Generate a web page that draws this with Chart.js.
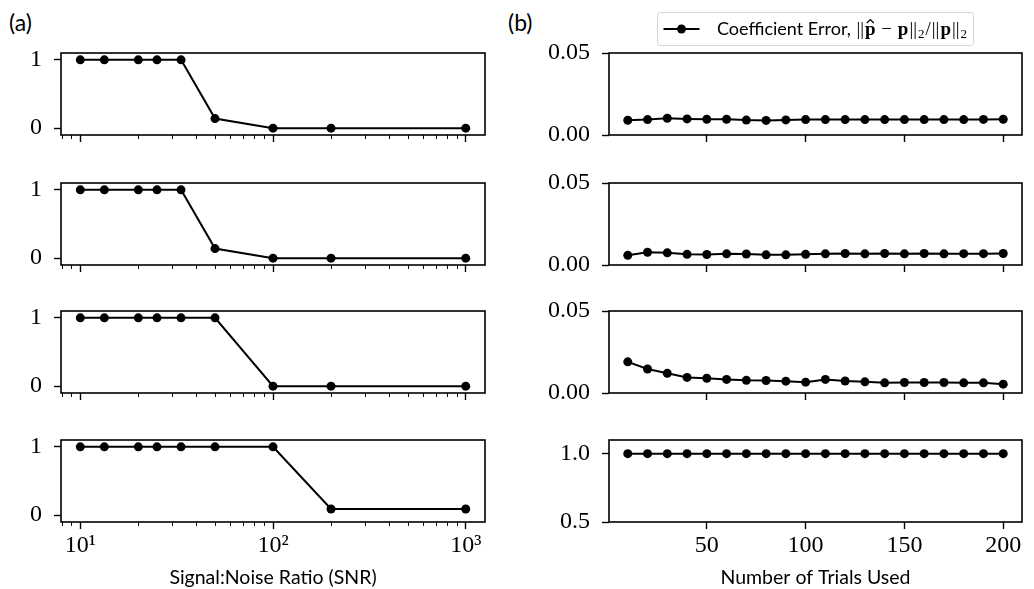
<!DOCTYPE html>
<html><head><meta charset="utf-8">
<script src="https://cdn.jsdelivr.net/npm/chart.js@4"></script>
<style>
html,body{margin:0;padding:0;background:#fff;width:1034px;height:589px;overflow:hidden;position:relative;}
canvas{position:absolute;}
.lbl{position:absolute;font-family:Lato,"Open Sans",sans-serif;font-size:23px;color:#000;line-height:24px;}
</style></head><body>
<div class="lbl" style="left:9px;top:10px">(a)</div>
<div class="lbl" style="left:508px;top:10px">(b)</div>
<canvas id="a1"></canvas><canvas id="a2"></canvas><canvas id="a3"></canvas><canvas id="a4"></canvas>
<canvas id="b1"></canvas><canvas id="b2"></canvas><canvas id="b3"></canvas><canvas id="b4"></canvas>
<script>
// ---------------- data ----------------
const snr = [10, 13.33, 20, 25, 33.33, 50, 100, 200, 1000];
const recovery1 = [1, 1, 1, 1, 1, 0.14, 0, 0, 0];
const recovery2 = [1, 1, 1, 1, 1, 0.14, 0, 0, 0];
const recovery3 = [1, 1, 1, 1, 1, 1, 0, 0, 0];
const recovery4 = [1, 1, 1, 1, 1, 1, 1, 0.09, 0.09];
const snrTicks = [10, 100, 1000];
const snrTickLabels = ['10¹', '10²', '10³'];
const recoveryTicks = [0, 1];
const recoveryTickLabels = ['0', '1'];

const trials = [10, 20, 30, 40, 50, 60, 70, 80, 90, 100, 110, 120, 130, 140, 150, 160, 170, 180, 190, 200];
const error1 = [0.0090, 0.0094, 0.0102, 0.0098, 0.0096, 0.0096, 0.0091, 0.0089, 0.0092, 0.0094, 0.0094, 0.0094, 0.0094, 0.0094, 0.0094, 0.0094, 0.0094, 0.0094, 0.0095, 0.0096];
const error2 = [0.0059, 0.0078, 0.0074, 0.0065, 0.0064, 0.0068, 0.0067, 0.0062, 0.0062, 0.0065, 0.0068, 0.0070, 0.0068, 0.0070, 0.0068, 0.0070, 0.0068, 0.0069, 0.0069, 0.0070];
const error3 = [0.0190, 0.0146, 0.0120, 0.0095, 0.0090, 0.0083, 0.0077, 0.0076, 0.0072, 0.0066, 0.0083, 0.0073, 0.0068, 0.0062, 0.0064, 0.0064, 0.0064, 0.0062, 0.0062, 0.0054];
const error4 = [1, 1, 1, 1, 1, 1, 1, 1, 1, 1, 1, 1, 1, 1, 1, 1, 1, 1, 1, 1];
const trialTicks = [50, 100, 150, 200];
const trialTickLabels = ['50', '100', '150', '200'];
const errorTicks = [0, 0.05];
const errorTickLabels = ['0.00', '0.05'];
const unitTicks = [0.5, 1.0];
const unitTickLabels = ['0.5', '1.0'];

const seriesLabel = 'Coefficient Error, ‖p̂ − p‖₂/‖p‖₂';
const legendPrefix = 'Coefficient Error, ';
const xTitleA = 'Signal:Noise Ratio (SNR)';
const xTitleB = 'Number of Trials Used';

// ---------------- plugins ----------------
const framePlugin = {
  id: 'frame',
  afterDraw(chart) {
    const ctx = chart.ctx, a = chart.chartArea;
    ctx.save();
    ctx.strokeStyle = '#000';
    ctx.lineWidth = 1.6;
    ctx.strokeRect(a.left, a.top, a.right - a.left, a.bottom - a.top);
    ctx.restore();
  }
};
const minorPlugin = {
  id: 'minorTicks',
  afterDraw(chart, args, opts) {
    if (!opts || !opts.values) return;
    const ctx = chart.ctx, a = chart.chartArea, sx = chart.scales.x;
    ctx.save();
    ctx.strokeStyle = '#000';
    ctx.lineWidth = 1;
    opts.values.forEach(v => {
      const px = Math.round(sx.getPixelForValue(v)) + 0.5;
      if (px < a.left || px > a.right) return;
      ctx.beginPath();
      ctx.moveTo(px, a.bottom);
      ctx.lineTo(px, a.bottom + 4);
      ctx.stroke();
    });
    ctx.restore();
  }
};
const legendPlugin = {
  id: 'mplLegend',
  afterDraw(chart, args, opts) {
    if (!opts || !opts.show) return;
    const ctx = chart.ctx, a = chart.chartArea;
    const sans = '18px Lato, "Open Sans", sans-serif';
    const serif = '19px "Liberation Serif", "DejaVu Serif", serif';
    const serifB = 'bold 19px "Liberation Serif", "DejaVu Serif", serif';
    const sub = '13px "Liberation Serif", "DejaVu Serif", serif';
    const parts = [
      [legendPrefix, sans, 0, false],
      ['||', serif, 0, false],
      ['p', serifB, 0, true],
      [' − ', serif, 0, false],
      ['p', serifB, 0, false],
      ['||', serif, 0, false],
      ['2', sub, 3, false],
      ['/', serif, 0, false],
      ['||', serif, 0, false],
      ['p', serifB, 0, false],
      ['||', serif, 0, false],
      ['2', sub, 3, false]
    ];
    ctx.save();
    let textW = 0;
    parts.forEach(p => { ctx.font = p[1]; p.push(ctx.measureText(p[0]).width + 1); textW += p[4]; });
    const handle = 36, gap = 17, padL = 6, padR = 6;
    const boxW = padL + handle + gap + textW + padR;
    const boxH = 33;
    const cx = (a.left + a.right) / 2;
    const x0 = Math.round(cx - boxW / 2) + 0.5, y0 = Math.round(a.top - 41) + 0.5;
    const r = 3;
    ctx.beginPath();
    ctx.moveTo(x0 + r, y0);
    ctx.arcTo(x0 + boxW, y0, x0 + boxW, y0 + boxH, r);
    ctx.arcTo(x0 + boxW, y0 + boxH, x0, y0 + boxH, r);
    ctx.arcTo(x0, y0 + boxH, x0, y0, r);
    ctx.arcTo(x0, y0, x0 + boxW, y0, r);
    ctx.closePath();
    ctx.fillStyle = 'rgba(255,255,255,0.8)';
    ctx.fill();
    ctx.strokeStyle = '#d4d4d4';
    ctx.lineWidth = 1;
    ctx.stroke();
    const ym = y0 + boxH / 2;
    const ds = chart.data.datasets[0];
    ctx.strokeStyle = ds.borderColor;
    ctx.lineWidth = ds.borderWidth;
    ctx.beginPath();
    ctx.moveTo(x0 + padL, ym);
    ctx.lineTo(x0 + padL + handle, ym);
    ctx.stroke();
    ctx.fillStyle = ds.pointBackgroundColor;
    ctx.beginPath();
    ctx.arc(x0 + padL + handle / 2, ym, ds.pointRadius, 0, Math.PI * 2);
    ctx.fill();
    let tx = x0 + padL + handle + gap;
    const base = ym + 6;
    ctx.fillStyle = '#000';
    ctx.textBaseline = 'alphabetic';
    parts.forEach(p => {
      ctx.font = p[1];
      ctx.fillText(p[0], tx + 0.5, base + p[2]);
      if (p[3]) {
        ctx.beginPath();
        ctx.lineWidth = 1.2;
        ctx.strokeStyle = '#000';
        const hx = tx + p[4] / 2;
        ctx.moveTo(hx - 3.5, base - 12);
        ctx.lineTo(hx, base - 15.5);
        ctx.lineTo(hx + 3.5, base - 12);
        ctx.stroke();
      }
      tx += p[4];
    });
    ctx.restore();
  }
};

// minor tick positions for the log axis (2..9 x 10^k)
const logMinor = [];
for (let e = 0; e <= 3; e++) for (let m = 2; m <= 9; m++) logMinor.push(m * Math.pow(10, e));

const tickFont = { family: '"Liberation Serif", "DejaVu Serif", serif', size: 24 };
const titleFont = { family: 'Lato, "Open Sans", sans-serif', size: 19.5 };

function makePanel(p) {
  const cv = document.getElementById(p.id);
  cv.width = p.w; cv.height = p.h;
  cv.style.left = p.left + 'px'; cv.style.top = p.top + 'px';
  cv.style.width = p.w + 'px'; cv.style.height = p.h + 'px';
  new Chart(cv, {
    type: 'line',
    data: {
      datasets: [{
        label: seriesLabel,
        data: p.xs.map((x, i) => ({ x: x, y: p.ys[i] })),
        borderColor: '#000',
        backgroundColor: '#000',
        pointBackgroundColor: '#000',
        pointBorderColor: '#000',
        borderWidth: 2,
        pointRadius: 4.5,
        pointBorderWidth: 0,
        tension: 0,
        fill: false
      }]
    },
    options: {
      responsive: false,
      animation: false,
      devicePixelRatio: 1,
      layout: { padding: { top: p.padTop, right: p.padRight, left: 0, bottom: 0 } },
      plugins: {
        legend: { display: false },
        tooltip: { enabled: false },
        minorTicks: { values: p.minor },
        mplLegend: { show: !!p.legend }
      },
      scales: {
        x: {
          type: p.xType,
          min: p.xMin, max: p.xMax,
          afterBuildTicks(s) { s.ticks = p.xTicks.map(v => ({ value: v })); },
          afterFit(s) { s.height = p.xH; s.paddingLeft = 0; s.paddingRight = 0; },
          grid: { display: true, drawOnChartArea: false, drawTicks: true, tickLength: 7, tickWidth: 1.4, tickColor: '#000' },
          border: { display: false },
          ticks: {
            display: !!p.showX,
            autoSkip: false, maxRotation: 0, padding: 2,
            color: '#000', font: tickFont,
            callback: (v, i) => p.xTickLabels[i]
          },
          title: { display: !!p.xTitle, text: p.xTitle || '', color: '#000', font: titleFont, padding: { top: 0, bottom: 0 } }
        },
        y: {
          type: 'linear',
          min: p.yMin, max: p.yMax,
          afterBuildTicks(s) { s.ticks = p.yTicks.map(v => ({ value: v })); },
          afterFit(s) { s.width = p.yW; s.paddingTop = 0; s.paddingBottom = 0; },
          grid: { display: true, drawOnChartArea: false, drawTicks: true, tickLength: 7, tickWidth: 1.4, tickColor: '#000' },
          border: { display: false },
          ticks: {
            autoSkip: false, padding: 12,
            color: '#000', font: tickFont,
            callback: (v, i) => p.yTickLabels[i]
          }
        }
      }
    },
    plugins: [framePlugin, minorPlugin, legendPlugin]
  });
}

const leftTops = [53, 183, 311, 440];
const plotH = 82;
const recSeries = [recovery1, recovery2, recovery3, recovery4];
const errSeries = [error1, error2, error3, error4];

recSeries.forEach((ys, i) => {
  const last = i === 3;
  const xH = last ? 67 : 10;
  makePanel({
    id: 'a' + (i + 1), left: 0, top: leftTops[i] - 20, w: 500, h: 20 + plotH + xH,
    padTop: 20, padRight: 15, yW: 61, xH: xH,
    xs: snr, ys: ys, xType: 'logarithmic', xMin: 7.94, xMax: 1259,
    xTicks: snrTicks, xTickLabels: snrTickLabels, showX: last, xTitle: last ? xTitleA : null,
    minor: logMinor,
    yMin: -0.1, yMax: 1.1, yTicks: recoveryTicks, yTickLabels: recoveryTickLabels
  });
});

errSeries.forEach((ys, i) => {
  const last = i === 3;
  const xH = last ? 67 : 10;
  const padTop = i === 0 ? 54 : 20;
  makePanel({
    id: 'b' + (i + 1), left: 520, top: leftTops[i] - padTop, w: 514, h: padTop + plotH + xH,
    padTop: padTop, padRight: 12, yW: 89, xH: xH,
    xs: trials, ys: ys, xType: 'linear', xMin: 0.5, xMax: 209.5,
    xTicks: trialTicks, xTickLabels: trialTickLabels, showX: last, xTitle: last ? xTitleB : null,
    minor: null, legend: i === 0,
    yMin: last ? 0.5 : 0, yMax: last ? 1.1 : 0.05,
    yTicks: last ? unitTicks : errorTicks, yTickLabels: last ? unitTickLabels : errorTickLabels
  });
});
</script>
</body></html>
